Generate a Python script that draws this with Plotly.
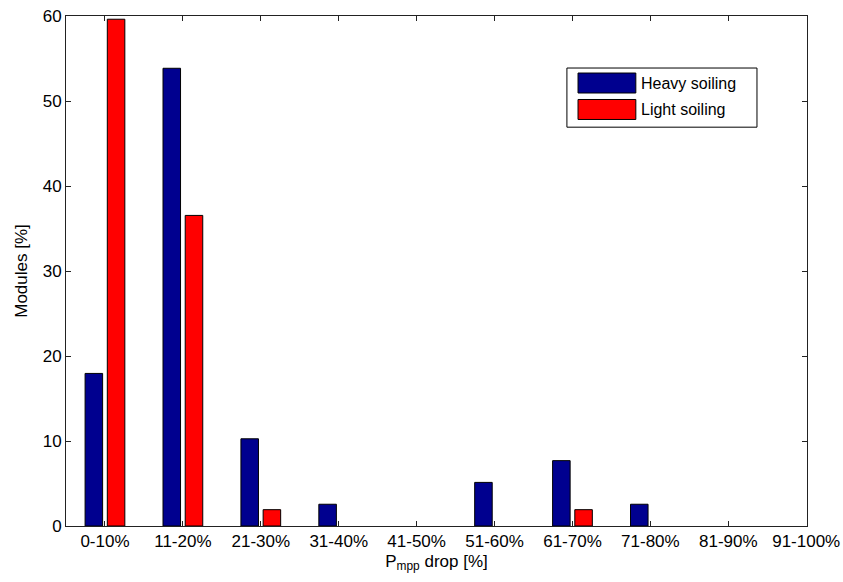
import plotly.graph_objects as go

categories = ["0-10%", "11-20%", "21-30%", "31-40%", "41-50%",
              "51-60%", "61-70%", "71-80%", "81-90%", "91-100%"]
heavy = [17.95, 53.85, 10.26, 2.56, 0.0, 5.13, 7.69, 2.56, 0.0, 0.0]
light = [59.62, 36.54, 1.92, 0.0, 0.0, 0.0, 1.92, 0.0, 0.0, 0.0]
series_names = ["Heavy soiling", "Light soiling"]
series_colors = ["#00008f", "#ff0000"]
yticks = [0, 10, 20, 30, 40, 50, 60]

xpos = list(range(1, len(categories) + 1))
FONT = "Liberation Sans, Arial, sans-serif"

fig = go.Figure()
for vals, name, col, off in [(heavy, series_names[0], series_colors[0], -0.255),
                             (light, series_names[1], series_colors[1], 0.03)]:
    fig.add_trace(go.Bar(
        x=xpos, y=[v if v > 0 else None for v in vals], name=name, width=0.225, offset=off,
        marker=dict(color=col, line=dict(color="black", width=1)),
        showlegend=False,
    ))

# custom legend (box with wide swatches)
lx0, lx1, ly0, ly1 = 0.676, 0.9325, 0.782, 0.898
shapes = [dict(type="rect", xref="paper", yref="paper", x0=lx0, x1=lx1, y0=ly0, y1=ly1,
               line=dict(color="black", width=1), fillcolor="white", layer="above")]
annotations = []
rows = [0.8686, 0.8167]
for name, col, yc in zip(series_names, series_colors, rows):
    shapes.append(dict(type="rect", xref="paper", yref="paper",
                       x0=0.691, x1=0.769, y0=yc - 0.0196, y1=yc + 0.0196,
                       line=dict(color="black", width=1), fillcolor=col, layer="above"))
    annotations.append(dict(xref="paper", yref="paper", x=0.7735, y=yc, text=name,
                            showarrow=False, xanchor="left", yanchor="middle",
                            font=dict(family=FONT, size=16, color="black")))

axis_common = dict(showline=True, linecolor="#222222", linewidth=1, mirror="ticks",
                   ticks="inside", ticklen=5, tickcolor="#222222", showgrid=False,
                   zeroline=False, automargin=False,
                   tickfont=dict(family=FONT, size=17, color="black"))

fig.update_layout(
    width=843, height=582,
    margin=dict(l=66, r=36, t=16, b=56),
    paper_bgcolor="white", plot_bgcolor="white",
    shapes=shapes, annotations=annotations,
    xaxis=dict(range=[0.5, 10.01], tickmode="array", tickvals=xpos, ticktext=categories,
               title=dict(text="P<sub>mpp</sub> drop [%]", standoff=4,
                          font=dict(family=FONT, size=17, color="black")),
               **axis_common),
    yaxis=dict(range=[0, 60], tickmode="array", tickvals=yticks,
               title=dict(text="Modules [%]", standoff=10,
                          font=dict(family=FONT, size=17, color="black")),
               **axis_common),
)

fig.write_html("out.html", config={"displayModeBar": False},
               post_script="document.body.style.margin='0';document.body.style.padding='0';"
                           "document.documentElement.style.overflow='hidden';")
